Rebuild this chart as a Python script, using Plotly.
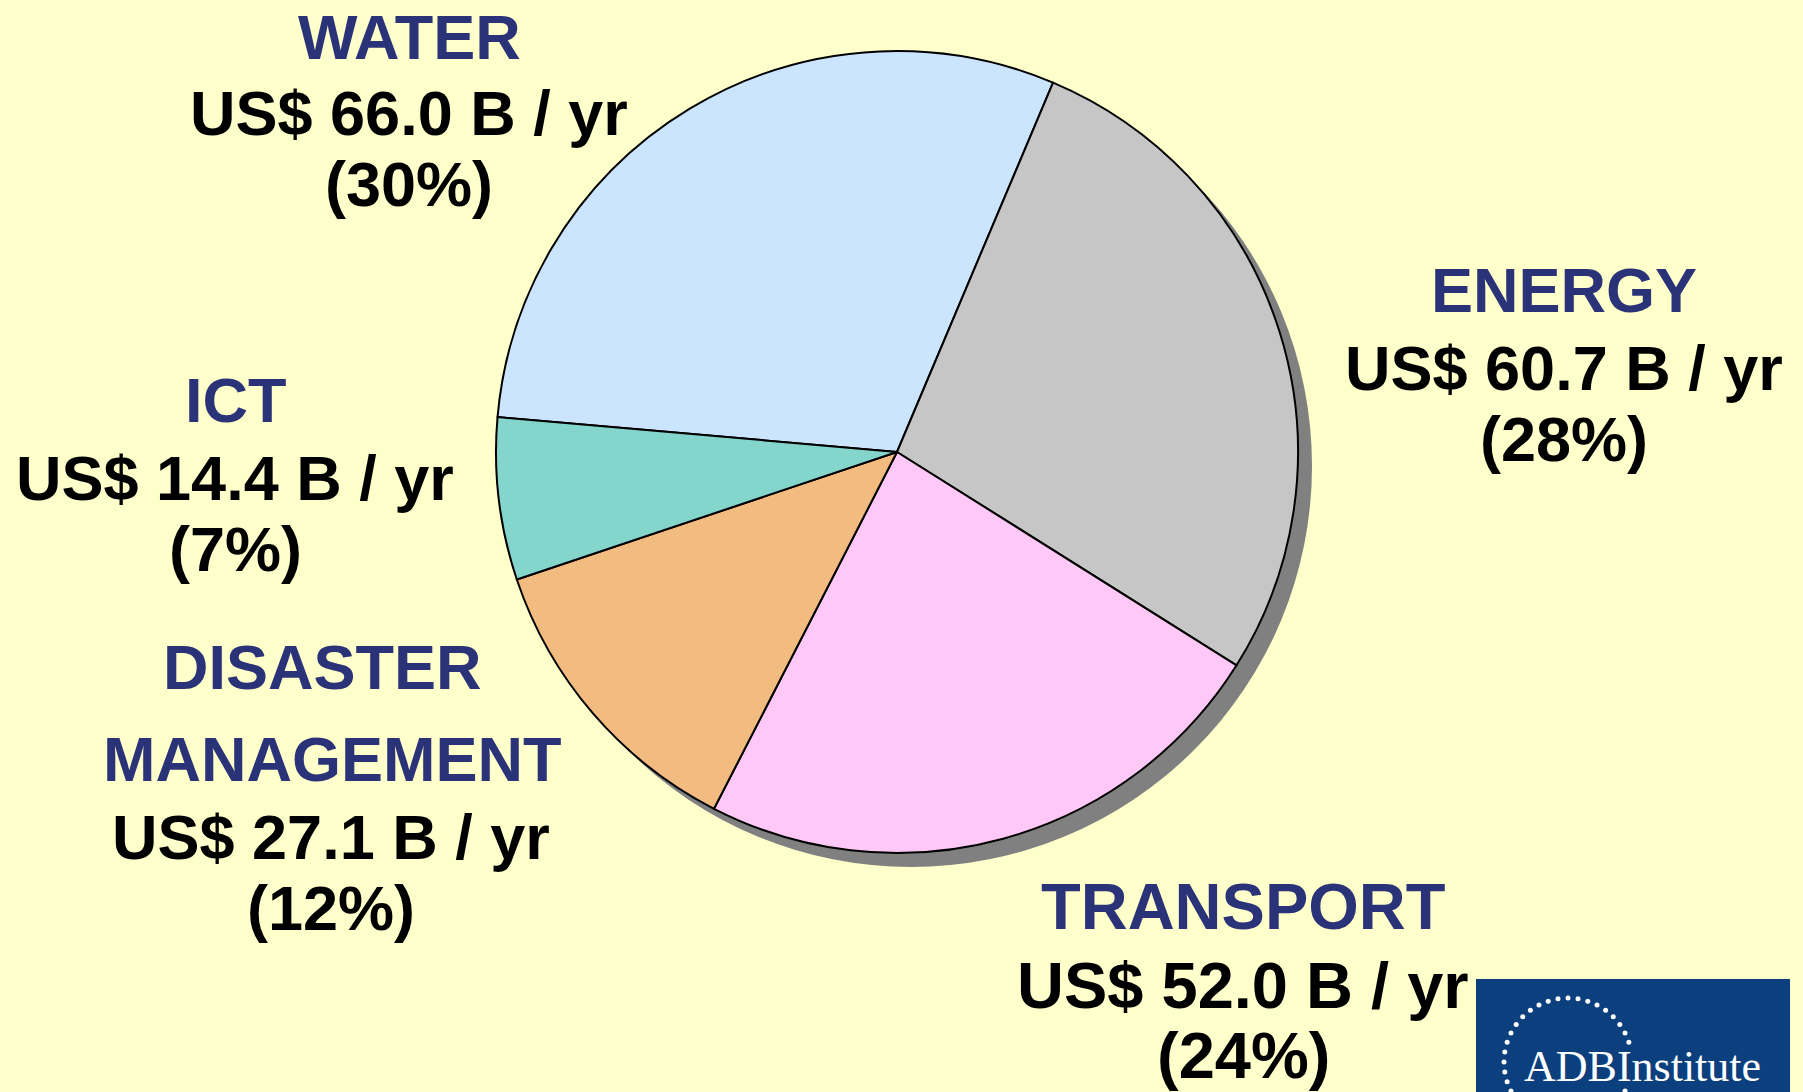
import math
import plotly.graph_objects as go

# ---- data ----
sectors = ["WATER", "ENERGY", "TRANSPORT", "DISASTER MANAGEMENT", "ICT"]
values_busd = [66.0, 60.7, 52.0, 27.1, 14.4]
shares_pct = [30, 28, 24, 12, 7]
colors = ["#CCE5FF", "#C6C6C6", "#FFC8F7", "#F2BC80", "#84D6CC"]

W, H = 1803, 1092
BG = "#FFFFCC"
NAVY = "#2B3378"

fig = go.Figure()

# pie geometry (pixels)
cx, cy, r = 897, 452, 401
sh = 14  # shadow offset


def dom(x0, y0, rad):
    return dict(x=[(x0 - rad) / W, (x0 + rad) / W],
                y=[1 - (y0 + rad) / H, 1 - (y0 - rad) / H])


# shadow
fig.add_trace(go.Pie(values=[sum(values_busd)], labels=["shadow"],
                     marker=dict(colors=["#808080"], line=dict(width=0)),
                     textinfo="none", hoverinfo="skip", sort=False,
                     showlegend=False, domain=dom(cx + sh, cy + sh, r)))

fig.add_trace(go.Pie(values=values_busd, labels=sectors, sort=False,
                     direction="clockwise", rotation=-85,
                     marker=dict(colors=colors, line=dict(color="black", width=2)),
                     textinfo="none", showlegend=False,
                     domain=dom(cx, cy, r)))

# labels: (x center px, [line y centers px], font size)
label_pos = {
    "WATER": (409, [37, 113, 184], 63),
    "ENERGY": (1564, [290, 368, 439], 63),
    "TRANSPORT": (1243, [906, 985, 1055], 65),
    "ICT": (235, [400, 478, 549], 63),
}
for i, name in enumerate(sectors):
    val = f"US$ {values_busd[i]:.1f} B / yr"
    pct = f"({shares_pct[i]}%)"
    if name == "DISASTER MANAGEMENT":
        fs = 63
        lines = [("DISASTER", 322, 667, NAVY), ("MANAGEMENT", 332, 759, NAVY),
                 (val, 331, 837, "black"), (pct, 331, 908, "black")]
    else:
        x, ys, fs = label_pos[name]
        lines = [(name, x, ys[0], NAVY), (val, x, ys[1], "black"), (pct, x, ys[2], "black")]
    for txt, x, y, col in lines:
        fig.add_annotation(x=x / W, y=1 - y / H, xref="paper", yref="paper",
                           text=f"<b>{txt}</b>", showarrow=False,
                           xanchor="center", yanchor="middle",
                           font=dict(family="Liberation Sans, Arial", size=fs, color=col))

# ADB Institute logo (decoration)
fig.add_shape(type="rect", xref="paper", yref="paper",
              x0=1476 / W, x1=1790 / W, y0=0, y1=1 - 979 / H,
              fillcolor="#0B3F7E", line=dict(width=0), layer="below")
lcx, lcy, lr = 1568, 1062, 64
dx, dy = [], []
n = 40
for k in range(n):
    a = 2 * math.pi * k / n
    px, py = lcx + lr * math.cos(a), lcy - lr * math.sin(a)
    if py > 1092:
        continue
    if px > 1590 and 1044 < py < 1084:
        continue
    dx.append(px)
    dy.append(py)
fig.add_trace(go.Scatter(x=dx, y=dy, mode="markers", hoverinfo="skip",
                         marker=dict(size=5, color="white"), showlegend=False))
fig.add_annotation(x=1522 / W, y=1 - 1066 / H, xref="paper", yref="paper",
                   text="ADBInstitute", showarrow=False, xanchor="left", yanchor="middle",
                   font=dict(family="Liberation Serif, Times New Roman", size=44, color="white"))

fig.update_layout(
    width=W, height=H, margin=dict(l=0, r=0, t=0, b=0),
    paper_bgcolor=BG, plot_bgcolor="rgba(0,0,0,0)",
    xaxis=dict(range=[0, W], visible=False, fixedrange=True),
    yaxis=dict(range=[H, 0], visible=False, fixedrange=True),
    showlegend=False,
)

fig.write_html("out.html", config={"displayModeBar": False},
               post_script="document.body.style.margin='0';document.body.style.overflow='hidden';")
